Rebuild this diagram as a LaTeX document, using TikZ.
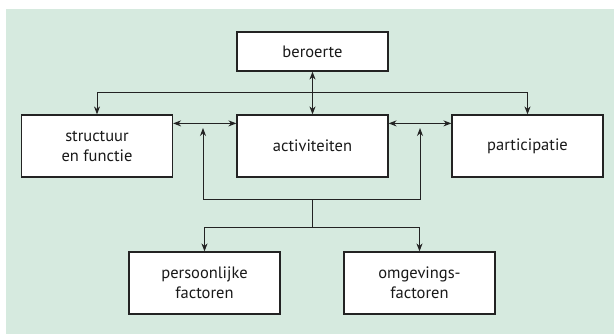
\documentclass[tikz,border=0pt]{standalone}
\usepackage{fontspec}
\setmainfont{PT Sans}
\usetikzlibrary{arrows.meta}
\definecolor{bggreen}{RGB}{214,234,223}
\definecolor{linegrey}{RGB}{35,35,35}
\begin{document}
\begin{tikzpicture}[x=1pt,y=-1pt,
  box/.style={draw=linegrey,line width=1.2pt,fill=white,minimum width=151pt,align=center,font=\fontsize{16.5}{20}\selectfont,text=black!90,inner sep=0pt},
  conn/.style={draw=linegrey,line width=1pt},
  tip/.style={-{Stealth[length=8pt,width=6pt]}},
  tips/.style={{Stealth[length=8pt,width=6pt]}-{Stealth[length=8pt,width=6pt]}}]
\useasboundingbox (0,0) rectangle (614,335);
\fill[bggreen] (6,9) rectangle (614,334);
\node[box,minimum height=39pt] (ber) at (312.5,51.5) {beroerte};
\node[box,minimum height=62pt] (str) at (97,146) {structuur\\en functie};
\node[box,minimum height=62pt] (act) at (312.5,146) {activiteiten};
\node[box,minimum height=62pt] (par) at (527.5,146) {participatie};
\node[box,minimum height=62pt] (per) at (204.5,283) {persoonlijke\\factoren};
\node[box,minimum height=62pt] (omg) at (419.5,283) {omgevings-\\factoren};
\coordinate (top) at (312.5,92);
\coordinate (tipL) at (203,128);
\coordinate (tipR) at (420,128);
\coordinate (loopL) at (203,199);
\coordinate (loopR) at (420,199);
\coordinate (loopM) at (312.5,199);
\coordinate (fork) at (312.5,227);
\draw[conn,tips] (ber) -- (act);
\draw[conn,tips] (str.north) -- (str.north |- top) -- (par.north |- top) -- (par.north);
\draw[conn,tips] ([yshift=-9pt]str.north east) -- ([yshift=-9pt]act.north west);
\draw[conn,tips] ([yshift=-9pt]act.north east) -- ([yshift=-9pt]par.north west);
\draw[conn,tips] (tipL) -- (loopL) -- (loopR) -- (tipR);
\draw[conn] (loopM) -- (fork);
\draw[conn,tip] (fork) -| (per.north);
\draw[conn,tip] (fork) -| (omg.north);
\end{tikzpicture}
\end{document}
